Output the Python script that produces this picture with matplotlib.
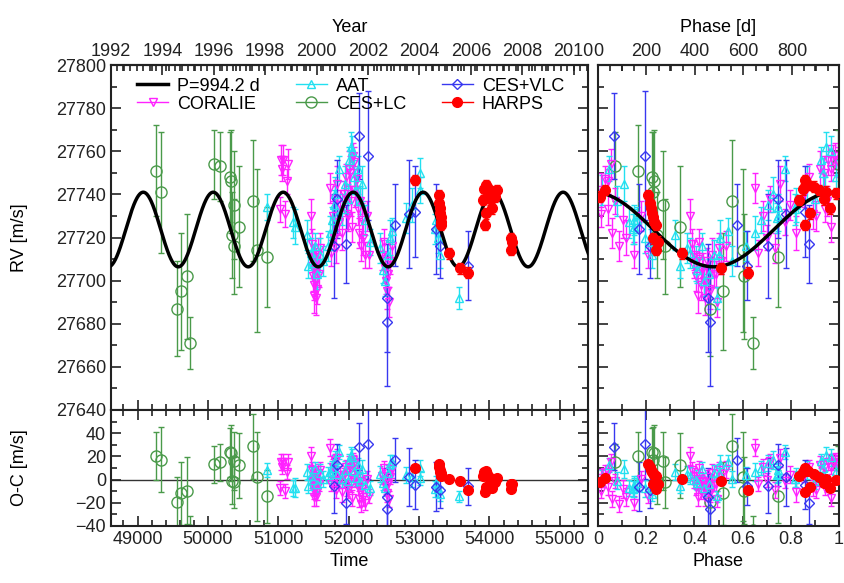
import numpy as np
import matplotlib.pyplot as plt
from matplotlib.ticker import MultipleLocator, FuncFormatter
from matplotlib.lines import Line2D

plt.rcParams['font.family'] = ['Liberation Sans', 'DejaVu Sans']

# orbit model (sine fit)
P = 994.2
K = 17.3
gamma = 27723.7
t_peak = 50075.0
T0 = t_peak - 0.98 * P

# CES+LC
lc_t = [49265, 49326, 49562, 49618, 49704, 49741, 50091, 50166, 50317, 50327,
        50340, 50364, 50373, 50435, 50647, 50695, 50837]
lc_rv = [27751, 27741, 27687, 27695, 27702, 27671, 27754, 27753, 27748, 27746,
         27721, 27735, 27716, 27725, 27737, 27714, 27711]
lc_err = [21, 28, 22, 27, 29, 12, 16, 16, 21, 24, 20, 25, 22, 28, 28, 38, 23]

# CORALIE
cor_t = [51030, 51045, 51055, 51064, 51100, 51130, 51144,
         51470, 51478, 51485, 51492, 51500, 51505, 51512, 51518, 51525, 51532,
         51540, 51548, 51560, 51575, 51590,
         51735, 51750, 51770, 51785, 51800, 51820, 51840, 51860, 51880, 51905,
         51940, 51960, 51975, 51990, 52005, 52020, 52035, 52050, 52065, 52080,
         52095, 52112, 52125, 52140, 52155, 52170, 52185, 52200, 52230, 52260, 52290,
         52480, 52500, 52515, 52530, 52545, 52560, 52575, 52590, 52610]
cor_rv = [27733, 27756, 27752, 27756, 27731, 27746, 27754,
          27730, 27717, 27707, 27702, 27693, 27711, 27698, 27705, 27700, 27692,
          27709, 27696, 27712, 27703, 27715,
          27743, 27713, 27730, 27720, 27738, 27715, 27745, 27727, 27735, 27722,
          27740, 27748, 27731, 27730, 27752, 27750, 27737, 27725, 27758, 27755,
          27742, 27747, 27733, 27722, 27737, 27716, 27728, 27720, 27712, 27730, 27712,
          27712, 27718, 27706, 27700, 27695, 27703, 27690, 27709, 27716]
cor_err = [6, 7, 6, 7, 6, 6, 7,
           8, 7, 6, 7, 8, 6, 7, 6, 7, 8,
           6, 7, 8, 6, 7,
           7, 6, 7, 6, 6, 7, 8, 6, 7, 8,
           6, 6, 7, 7, 8, 8, 7, 7, 6, 7,
           8, 6, 7, 7, 6, 7, 8, 8, 6, 7, 6,
           7, 6, 7, 6, 8, 6, 7, 6, 7]

# AAT
aat_t = [50837, 51215, 51239, 51405, 51427, 51470, 51495, 51520, 51545, 51590,
         51640, 51700, 51735, 51760, 51790, 51810, 51830, 51860, 51900, 51950,
         51985, 52010, 52030, 52050, 52070, 52100, 52130, 52160, 52190, 52230,
         52300, 52450, 52490, 52520, 52560, 52585, 52620, 52820, 52900, 53010,
         53020, 53223, 53240, 53270, 53300, 53567]
aat_rv = [27734, 27727, 27725, 27721, 27707, 27713, 27708, 27716, 27703, 27712,
          27709, 27716, 27722, 27728, 27735, 27740, 27730, 27752, 27733, 27745,
          27738, 27756, 27762, 27760, 27748, 27742, 27752, 27737, 27745, 27728,
          27718, 27715, 27705, 27700, 27712, 27720, 27723, 27729, 27735, 27750,
          27742, 27724, 27728, 27720, 27712, 27692]
aat_err = [6, 7, 8, 7, 6, 7, 8, 6, 7, 8,
           7, 7, 8, 6, 7, 8, 7, 6, 7, 8,
           7, 6, 7, 7, 8, 7, 6, 7, 8, 7,
           6, 7, 6, 7, 7, 8, 6, 7, 8, 7,
           6, 7, 6, 7, 6, 5]

# CES+VLC
vlc_t = [51791, 51830, 51961, 52150, 52277, 52538, 52545, 52656, 52859, 52939,
         53247, 53293, 53694]
vlc_rv = [27716, 27738, 27717, 27767, 27758, 27692, 27681, 27726, 27731, 27732,
          27724, 27716, 27707]
vlc_err = [24, 18, 18, 20, 30, 25, 30, 19, 25, 21, 21, 15, 16]

# HARPS
harps_t = [52939, 53283, 53290, 53296, 53300, 53305, 53310, 53317, 53425, 53586,
           53695, 53906, 53925, 53931, 53945, 53952, 53970, 53990, 54010, 54020,
           54035, 54060, 54080, 54100, 54300, 54310, 54320]
harps_rv = [27746.7, 27739.7, 27735.9, 27733.5, 27731.2, 27729.6, 27727.3, 27725.8,
            27712.7, 27705.7, 27703.7, 27737.4, 27742.3, 27725.8, 27744.3, 27731.2,
            27743.6, 27742.0, 27737.7, 27741.2, 27733.5, 27740.5, 27739.0, 27742.0,
            27719.6, 27714.2, 27718.0]
harps_err = [2.5] * len(harps_t)


def model(t):
    return gamma + K * np.cos(2 * np.pi * (np.asarray(t) - t_peak) / P)


def phase(t):
    return ((np.asarray(t) - T0) / P) % 1.0


sets = [
    ('CES+LC', lc_t, lc_rv, lc_err, dict(fmt='o', color='#4a9a4a', mfc='none', ms=8)),
    ('CORALIE', cor_t, cor_rv, cor_err, dict(fmt='v', color='#ff22ff', mfc='none', ms=6)),
    ('AAT', aat_t, aat_rv, aat_err, dict(fmt='^', color='#22e0f0', mfc='none', ms=6)),
    ('CES+VLC', vlc_t, vlc_rv, vlc_err, dict(fmt='D', color='#3838f0', mfc='none', ms=5)),
    ('HARPS', harps_t, harps_rv, harps_err, dict(fmt='o', color='#ff0000', mfc='#ff0000', ms=7)),
]

fig = plt.figure(figsize=(8.45, 5.83), dpi=100)
W, H = 845.0, 583.0
ax1 = fig.add_axes([111 / W, 1 - 410 / H, 477 / W, 345 / H])
ax2 = fig.add_axes([111 / W, 1 - 526 / H, 477 / W, 116 / H])
ax3 = fig.add_axes([598 / W, 1 - 410 / H, 241 / W, 345 / H])
ax4 = fig.add_axes([598 / W, 1 - 526 / H, 241 / W, 116 / H])

t_grid = np.linspace(48600, 55450, 1500)
ph_grid = np.linspace(0, 1, 300)

for name, t, rv, err, st in sets:
    z = 4 if name == 'HARPS' else 2
    oc = np.array(rv) - model(t)
    kw = dict(fmt=st['fmt'], color=st['color'], mfc=st['mfc'], ms=st['ms'],
              mew=1.0, elinewidth=1.0, capsize=2, capthick=1.0, zorder=z)
    ax1.errorbar(t, rv, yerr=err, **kw)
    ax2.errorbar(t, oc, yerr=err, **kw)
    ax3.errorbar(phase(t), rv, yerr=err, **kw)
    ax4.errorbar(phase(t), oc, yerr=err, **kw)

ax1.plot(t_grid, model(t_grid), color='black', lw=2.5, zorder=3)
ax3.plot(ph_grid, gamma + K * np.cos(2 * np.pi * (ph_grid - 0.98)), color='black', lw=2.5, zorder=3)
ax2.axhline(0, color='#333333', lw=1.0, zorder=1)
ax4.axhline(0, color='#333333', lw=1.0, zorder=1)

xlo, xhi = 48622.5, 55400
for ax in (ax1, ax2):
    ax.set_xlim(xlo, xhi)
    ax.xaxis.set_major_locator(MultipleLocator(1000))
    ax.xaxis.set_minor_locator(MultipleLocator(200))
for ax in (ax3, ax4):
    ax.set_xlim(0, 1)
    ax.xaxis.set_major_locator(MultipleLocator(0.2))
    ax.xaxis.set_minor_locator(MultipleLocator(0.1))
for ax in (ax1, ax3):
    ax.set_ylim(27640, 27800)
    ax.yaxis.set_major_locator(MultipleLocator(20))
    ax.yaxis.set_minor_locator(MultipleLocator(10))
for ax in (ax2, ax4):
    ax.set_ylim(-40, 60)
    ax.set_yticks([-40, -20, 0, 20, 40])
    ax.yaxis.set_minor_locator(MultipleLocator(10))

for ax in (ax1, ax2, ax3, ax4):
    for s in ax.spines.values():
        s.set_linewidth(1.5)
        s.set_color('#222222')
    ax.tick_params(which='both', direction='in', right=True, top=True,
                   labelsize=13, colors='#222222', width=1.2)
    ax.tick_params(which='major', length=7)
    ax.tick_params(which='minor', length=4)

ax1.tick_params(top=False, labelbottom=False)
ax3.tick_params(top=False, labelbottom=False, labelleft=False)
ax4.tick_params(labelleft=False)
ax4.xaxis.set_major_formatter(FuncFormatter(lambda v, p: '%g' % round(v, 2)))

# top axes: calendar year and phase in days
sec1 = ax1.secondary_xaxis('top', functions=(lambda t: 1992 + (t - 48622.5) / 365.25,
                                             lambda y: 48622.5 + (y - 1992) * 365.25))
sec1.xaxis.set_major_locator(MultipleLocator(2))
sec1.xaxis.set_minor_locator(MultipleLocator(0.25))
sec3 = ax3.secondary_xaxis('top', functions=(lambda p: p * P, lambda d: d / P))
sec3.set_xticks([0, 200, 400, 600, 800])
sec3.xaxis.set_minor_locator(MultipleLocator(50))
for sec in (sec1, sec3):
    sec.tick_params(which='both', direction='in', labelsize=13, colors='#222222', width=1.2)
    sec.tick_params(which='major', length=7)
    sec.tick_params(which='minor', length=4)
    sec.spines['top'].set_linewidth(1.5)
sec1.set_xlabel('Year', fontsize=13, labelpad=8)
sec3.set_xlabel('Phase [d]', fontsize=13, labelpad=8)

ax1.set_ylabel('RV [m/s]', fontsize=13)
ax1.yaxis.set_label_coords(-0.175, 0.5)
ax2.set_ylabel('O-C [m/s]', fontsize=13)
ax2.yaxis.set_label_coords(-0.175, 0.5)
ax2.set_xlabel('Time', fontsize=13, labelpad=4)
ax4.set_xlabel('Phase', fontsize=13, labelpad=4)

handles = [Line2D([], [], color='black', lw=2.5)]
labels = ['P=994.2 d']
order = ['CORALIE', 'AAT', 'CES+LC', 'CES+VLC', 'HARPS']
look = {s[0]: s[4] for s in sets}
for nm in order:
    st = look[nm]
    handles.append(Line2D([], [], color=st['color'], marker=st['fmt'], mfc=st['mfc'],
                          ms=st['ms'], lw=1.0))
    labels.append(nm)
ax1.legend(handles, labels, ncol=3, loc='upper left', frameon=False, fontsize=13,
           bbox_to_anchor=(0.025, 1.005), handlelength=1.7, columnspacing=2.0,
           labelspacing=0.05, handletextpad=0.5, borderpad=0.3)

fig.savefig('out.png', dpi=100)
